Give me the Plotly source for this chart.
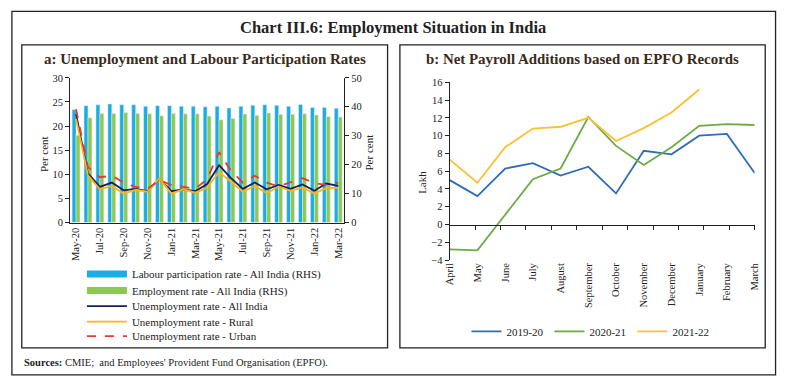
import plotly.graph_objects as go

# ---------------- data: panel a ----------------
months = ['May-20', 'Jun-20', 'Jul-20', 'Aug-20', 'Sep-20', 'Oct-20', 'Nov-20', 'Dec-20',
          'Jan-21', 'Feb-21', 'Mar-21', 'Apr-21', 'May-21', 'Jun-21', 'Jul-21', 'Aug-21',
          'Sep-21', 'Oct-21', 'Nov-21', 'Dec-21', 'Jan-22', 'Feb-22', 'Mar-22']
month_ticks = months[::2]
lpr_all = [39.0, 40.4, 40.7, 41.0, 40.7, 40.7, 40.2, 40.4, 40.4, 40.2, 40.2, 40.0,
           40.2, 39.6, 40.2, 40.5, 40.7, 40.5, 40.2, 40.8, 39.8, 39.8, 39.5]
er_all = [30.2, 36.2, 37.7, 37.7, 38.0, 37.7, 37.6, 36.9, 37.7, 37.6, 37.6, 36.8,
          35.5, 36.0, 37.5, 37.1, 37.9, 37.4, 37.4, 37.6, 37.2, 36.6, 36.5]
ur_all = [22.5, 10.2, 7.4, 8.3, 6.7, 7.0, 6.5, 9.1, 6.5, 6.9, 6.5, 8.0,
          11.9, 9.2, 7.0, 8.3, 6.9, 7.8, 7.0, 7.9, 6.6, 8.1, 7.6]
ur_rural = [21.5, 9.8, 6.9, 7.6, 6.0, 6.8, 6.4, 9.2, 6.0, 6.9, 6.2, 7.2,
            10.5, 8.5, 6.4, 7.6, 6.1, 7.5, 6.6, 7.3, 6.0, 7.2, 7.2]
ur_urban = [23.5, 11.5, 9.4, 9.7, 8.3, 7.4, 7.0, 8.8, 7.8, 7.4, 7.0, 9.0,
            14.6, 10.7, 8.3, 9.7, 8.3, 7.5, 8.3, 9.2, 8.2, 7.8, 8.3]
names_a = ['Labour participation rate - All India (RHS)', 'Employment rate - All India (RHS)',
           'Unemployment rate - All India', 'Unemployment rate - Rural', 'Unemployment rate - Urban']

# ---------------- data: panel b ----------------
fy_months = ['April', 'May', 'June', 'July', 'August', 'September', 'October',
             'November', 'December', 'January', 'February', 'March']
pay_1920 = [5.0, 3.2, 6.3, 6.9, 5.5, 6.5, 3.5, 8.3, 7.9, 10.0, 10.2, 5.8]
pay_2021 = [-2.8, -2.9, 1.1, 5.1, 6.3, 12.1, 8.85, 6.7, 8.7, 11.1, 11.3, 11.2]
pay_2122 = [7.3, 4.7, 8.7, 10.8, 11.0, 12.0, 9.4, 10.85, 12.6, 15.2, None, None]
names_b = ['2019-20', '2020-21', '2021-22']

# ---------------- layout helpers ----------------
W, H = 785, 385
def px(x):
    return x / W
def py(y):
    return 1 - y / H

FONT = 'Liberation Serif'
C_LPR, C_ER = '#19ADE6', '#8DC853'
C_ALL, C_RUR, C_URB = '#1B1F5E', '#FDB515', '#E53A2F'
C_B1, C_B2, C_B3 = '#2E6DB4', '#6BAA45', '#FDC02F'

# one legend box per panel-a entry so the rows can sit closer together
legend_ids_a = ['legend', 'legend3', 'legend4', 'legend5', 'legend6']
legend_rows_a = [262, 279, 295, 311, 326]

fig = go.Figure()

# panel a bars (RHS axis = 'y')
fig.add_trace(go.Bar(x=months, y=lpr_all, name=names_a[0], marker_color=C_LPR,
                     xaxis='x', yaxis='y', showlegend=False))
fig.add_trace(go.Bar(x=months, y=er_all, name=names_a[1], marker_color=C_ER,
                     xaxis='x', yaxis='y', showlegend=False))
# legend entries for bars (wide rectangles)
fig.add_trace(go.Scatter(x=[None], y=[None], mode='lines', name=names_a[0],
                         line=dict(color=C_LPR, width=7), xaxis='x', yaxis='y2',
                         legend=legend_ids_a[0]))
fig.add_trace(go.Scatter(x=[None], y=[None], mode='lines', name=names_a[1],
                         line=dict(color=C_ER, width=7), xaxis='x', yaxis='y2',
                         legend=legend_ids_a[1]))
# lines (LHS axis = 'y2')
fig.add_trace(go.Scatter(x=months, y=ur_all, mode='lines', name=names_a[2],
                         line=dict(color=C_ALL, width=1.8), xaxis='x', yaxis='y2',
                         legend=legend_ids_a[2]))
fig.add_trace(go.Scatter(x=months, y=ur_rural, mode='lines', name=names_a[3],
                         line=dict(color=C_RUR, width=1.8), xaxis='x', yaxis='y2',
                         legend=legend_ids_a[3]))
fig.add_trace(go.Scatter(x=months, y=ur_urban, mode='lines', name=names_a[4],
                         line=dict(color=C_URB, width=1.8, dash='dash'), xaxis='x', yaxis='y2',
                         legend=legend_ids_a[4]))

# panel b lines
for vals, nm, col in zip([pay_1920, pay_2021, pay_2122], names_b, [C_B1, C_B2, C_B3]):
    fig.add_trace(go.Scatter(x=fy_months, y=vals, mode='lines', name=nm,
                             line=dict(color=col, width=1.8), xaxis='x3', yaxis='y3',
                             legend='legend2', connectgaps=False))
# empty trace so the zero-crossing x axis (x4) is drawn
fig.add_trace(go.Scatter(x=[None], y=[None], mode='lines', xaxis='x4', yaxis='y3',
                         showlegend=False, hoverinfo='skip'))

tickfont = dict(family=FONT, size=10.5, color='#222')
axis_common = dict(showgrid=False, zeroline=False, linecolor='#222', linewidth=1,
                   tickcolor='#222', tickfont=tickfont)

y3_range = [-4, 16]
y3_dom = [py(262.6), py(79.6)]
zero_pos = y3_dom[0] + (0 - y3_range[0]) / (y3_range[1] - y3_range[0]) * (y3_dom[1] - y3_dom[0])

fig.update_layout(
    width=W, height=H, margin=dict(l=0, r=0, t=0, b=0),
    paper_bgcolor='white', plot_bgcolor='rgba(0,0,0,0)',
    font=dict(family=FONT, color='#222'),
    barmode='group', bargap=0.34, bargroupgap=0,
    xaxis=dict(domain=[px(65), px(343)], anchor='y', type='category',
               categoryorder='array', categoryarray=months,
               tickmode='array', tickvals=month_ticks, ticktext=month_ticks,
               tickangle=-90, showline=True, ticks='', **axis_common),
    yaxis=dict(domain=[py(224), py(75)], anchor='x', side='right', range=[0, 50], dtick=10,
               showline=True, ticks='outside', ticklen=4, **axis_common),
    yaxis2=dict(overlaying='y', anchor='x', side='left', range=[0, 30], dtick=5,
                showline=True, ticks='outside', ticklen=4, **axis_common),
    xaxis3=dict(domain=[px(450), px(759.3)], anchor='y3', type='category',
                categoryorder='array', categoryarray=fy_months,
                tickangle=-90, showline=False, ticks='', **axis_common),
    yaxis3=dict(domain=y3_dom, anchor='x3', range=y3_range, dtick=2,
                showline=True, ticks='outside', ticklen=4, **axis_common),
    xaxis4=dict(overlaying='x3', anchor='free', position=zero_pos, type='linear',
                range=[-0.5, 11.5], tick0=-0.5, dtick=1, showticklabels=False,
                showline=True, ticks='outside', ticklen=4, showgrid=False, zeroline=False,
                linecolor='#222', tickcolor='#222'),
    legend2=dict(x=px(467), y=py(336), xanchor='left', yanchor='middle', orientation='h',
                 font=dict(family=FONT, size=11, color='#222'), itemwidth=30,
                 entrywidth=38, bgcolor='rgba(0,0,0,0)'),
)
for lid, row in zip(legend_ids_a, legend_rows_a):
    fig.update_layout({lid: dict(x=px(77), y=py(row), xanchor='left', yanchor='top',
                                 orientation='v', itemwidth=40, bgcolor='rgba(0,0,0,0)',
                                 font=dict(family=FONT, size=11, color='#222'))})

# frames
frame = dict(type='rect', xref='paper', yref='paper', line=dict(color='#222', width=1.3))
fig.add_shape(x0=px(6), x1=px(780.5), y0=py(380.7), y1=py(6.5), **frame)
fig.add_shape(x0=px(16), x1=px(387), y0=py(353), y1=py(41), **frame)
fig.add_shape(x0=px(399.5), x1=px(770), y0=py(353), y1=py(41), **frame)

# texts
ann = []
ann.append(dict(text='<b>Chart III.6: Employment Situation in India</b>', x=px(392), y=py(23),
                font=dict(family=FONT, size=16.5, color='#222')))
ann.append(dict(text='<b>a: Unemployment and Labour Participation Rates</b>', x=px(202), y=py(56),
                font=dict(family=FONT, size=15, color='#3a2a1a')))
ann.append(dict(text='<b>b: Net Payroll Additions based on EPFO Records</b>', x=px(585), y=py(56),
                font=dict(family=FONT, size=14.9, color='#3a2a1a')))
ann.append(dict(text='Per cent', x=px(38), y=py(153), textangle=-90,
                font=dict(family=FONT, size=11, color='#222')))
ann.append(dict(text='Per cent', x=px(368), y=py(152), textangle=-90,
                font=dict(family=FONT, size=11, color='#222')))
ann.append(dict(text='Lakh', x=px(422), y=py(183), textangle=-90,
                font=dict(family=FONT, size=11, color='#222')))
for a in ann:
    a.update(xref='paper', yref='paper', showarrow=False, xanchor='center', yanchor='middle')
fig.update_layout(annotations=ann)
fig.add_annotation(text="<b>Sources:</b> CMIE;  and Employees' Provident Fund Organisation (EPFO).",
                   x=px(16), y=py(369), xref='paper', yref='paper', showarrow=False,
                   xanchor='left', yanchor='middle', font=dict(family=FONT, size=10.5, color='#222'))

fig.write_html('out.html', config={'displayModeBar': False},
               post_script="document.body.style.margin='0';")
